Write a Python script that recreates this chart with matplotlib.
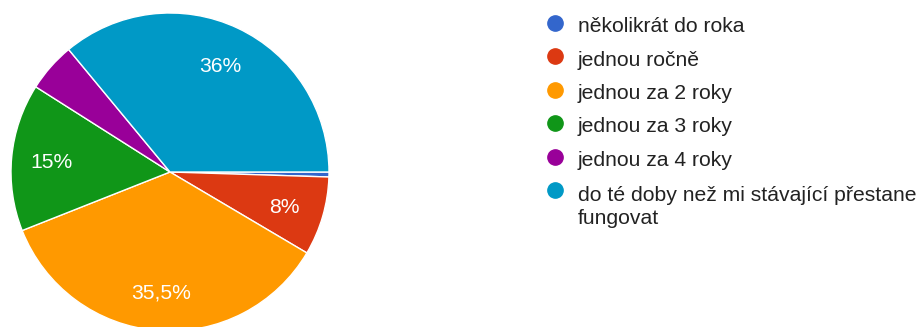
import matplotlib.pyplot as plt

plt.rcParams['font.family'] = ['Liberation Sans', 'DejaVu Sans']

## answers and their shares (%)
labels = ['několikrát do roka', 'jednou ročně', 'jednou za 2 roky',
          'jednou za 3 roky', 'jednou za 4 roky',
          'do té doby než mi stávající přestane\nfungovat']
shares = [0.5, 8, 35.5, 15, 5, 36]
colors = ['#3366cc', '#dc3912', '#ff9900', '#109618', '#990099', '#0099c6']


def pct_label(p):
    p = round(p, 1)
    if p < 7:
        return ''
    if p == int(p):
        return f'{int(p)}%'
    return f'{p:.1f}%'.replace('.', ',')


fig = plt.figure(figsize=(9.22, 3.27), dpi=100)
W, H = 922, 327
cx, cy, r = 170, 172, 159
ax = fig.add_axes([(cx - r) / W, (H - cy - r) / H, 2 * r / W, 2 * r / H])

wedges, texts, autotexts = ax.pie(
    shares, colors=colors, startangle=0, counterclock=False,
    autopct=pct_label, pctdistance=0.75, radius=1,
    wedgeprops=dict(edgecolor='white', linewidth=1.0),
    textprops=dict(color='white', fontsize=15.2))
for t in autotexts:
    t.set_va('center_baseline')
ax.set_xlim(-1, 1)
ax.set_ylim(-1, 1)
ax.set_aspect('equal')
ax.axis('off')

## legend drawn on an overlay in pixel units, marker sits on the first line
lax = fig.add_axes([0, 0, 1, 1])
lax.set_xlim(0, W)
lax.set_ylim(H, 0)
lax.axis('off')
line_gap = 25
for i, (lab, c) in enumerate(zip(labels, colors)):
    y = 22.5 + 33.5 * i
    lax.plot(555, y, marker='o', markersize=11, color=c, linestyle='none')
    # baseline alignment of a wrapped label refers to its last line
    lax.text(578, y + 9.5 + line_gap * lab.count('\n'), lab, fontsize=15.2,
             color='#222222', va='baseline', ha='left', linespacing=1.28)

fig.savefig('out.png', dpi=100)
